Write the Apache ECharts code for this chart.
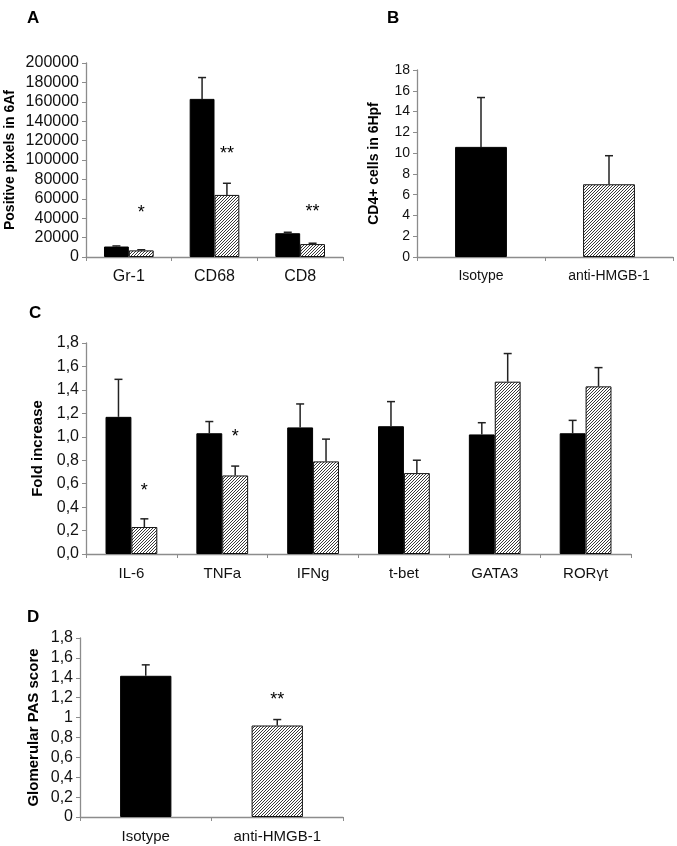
<!DOCTYPE html>
<html>
<head>
<meta charset="utf-8">
<script src="https://cdn.jsdelivr.net/npm/echarts@6/dist/echarts.min.js"></script>
<style>
html,body{margin:0;padding:0;background:#fff;}
#main{width:677px;height:846px;}
</style>
</head>
<body>
<div id="main"></div>
<script>
// panel A
var catsA = ['Gr-1', 'CD68', 'CD8'];
var isoA = [10800, 163000, 24500];
var isoErrA = [600, 22000, 1000];
var antiA = [6800, 64000, 13300];
var antiErrA = [700, 12000, 900];
var starsA = ['*', '**', '**'];
var starYA = [45000, 106000, 46000];

// panel B
var catsB = ['Isotype', 'anti-HMGB-1'];
var valsB = [10.6, 7.0];
var errB = [4.75, 2.75];

// panel C
var catsC = ['IL-6', 'TNFa', 'IFNg', 't-bet', 'GATA3', 'RORγt'];
var isoC = [1.17, 1.03, 1.08, 1.09, 1.02, 1.03];
var isoErrC = [0.32, 0.10, 0.20, 0.21, 0.10, 0.11];
var antiC = [0.23, 0.67, 0.79, 0.69, 1.47, 1.43];
var antiErrC = [0.07, 0.08, 0.19, 0.11, 0.24, 0.16];
var starsC = ['*', '*', '', '', '', ''];
var starYC = [0.54, 1.0, 0, 0, 0, 0];

// panel D
var catsD = ['Isotype', 'anti-HMGB-1'];
var valsD = [1.42, 0.92];
var errD = [0.11, 0.06];
var starsD = ['', '**'];
var starYD = [0, 1.18];

var FONT = '"Liberation Sans", Arial, sans-serif';
var AXIS_GRAY = '#8c8c8c';

// hatch pattern, 3px diagonal "/"
var hatch = document.createElement('canvas');
hatch.width = 3; hatch.height = 3;
var hc = hatch.getContext('2d');
hc.fillStyle = '#fff';
hc.fillRect(0, 0, 3, 3);
hc.fillStyle = '#3a3a3a';
for (var k = 0; k < 3; k++) hc.fillRect(k, 2 - k, 1, 1);
var hatchFill = {image: hatch, repeat: 'repeat'};

function blackStyle() { return {color: '#000', borderColor: '#000', borderWidth: 1}; }
function hatchStyle() { return {color: hatchFill, borderColor: '#111', borderWidth: 1}; }

function commaFmt(v) {
  return String(+v.toFixed(1)).replace('.', ',');
}

function errData(vals, errs) {
  return vals.map(function (v, i) { return [i, v, errs[i]]; });
}

function errSeries(idx, data, side, frac) {
  return {
    type: 'custom', xAxisIndex: idx, yAxisIndex: idx, z: 5,
    silent: true,
    encode: {x: 0, y: 1},
    data: data,
    renderItem: function (params, api) {
      var bw = api.size([1, 0])[0];
      var off = side * bw * frac / 2;
      var base = api.coord([api.value(0), api.value(1)]);
      var top = api.coord([api.value(0), api.value(1) + api.value(2)]);
      var x = base[0] + off;
      return {
        type: 'group',
        children: [
          {type: 'line', shape: {x1: x, y1: base[1], x2: x, y2: top[1]},
            style: {stroke: '#222', lineWidth: 1.5}},
          {type: 'line', shape: {x1: x - 4, y1: top[1], x2: x + 4, y2: top[1]},
            style: {stroke: '#222', lineWidth: 1.5}}
        ]
      };
    }
  };
}

function starSeries(idx, stars, ys, side, frac) {
  return {
    type: 'custom', xAxisIndex: idx, yAxisIndex: idx, z: 6,
    silent: true,
    encode: {x: 0, y: 1},
    data: ys.map(function (y, i) { return [i, y]; }),
    renderItem: function (params, api) {
      var s = stars[params.dataIndex];
      if (!s) return null;
      var bw = api.size([1, 0])[0];
      var p = api.coord([api.value(0), api.value(1)]);
      return {
        type: 'text', x: p[0] + side * bw * frac / 2, y: p[1],
        style: {text: s, fill: '#000', font: '18px ' + FONT,
          align: 'center', verticalAlign: 'middle'}
      };
    }
  };
}

function xAx(idx, cats, size) {
  return {
    type: 'category', gridIndex: idx, data: cats,
    axisLine: {lineStyle: {color: AXIS_GRAY, width: 1.3}},
    axisTick: {show: true, interval: 0, length: 4, lineStyle: {color: AXIS_GRAY}},
    axisLabel: {color: '#111', fontSize: size, fontFamily: FONT, margin: 12, interval: 0}
  };
}

function yAx(idx, max, interval, name, nameGap, nameSize, labSize, fmt) {
  return {
    type: 'value', gridIndex: idx, min: 0, max: max, interval: interval,
    name: name, nameLocation: 'middle', nameGap: nameGap,
    nameTextStyle: {fontWeight: 'bold', fontSize: nameSize, fontFamily: FONT, color: '#000'},
    splitLine: {show: false},
    axisLine: {show: true, lineStyle: {color: AXIS_GRAY, width: 1.3}},
    axisTick: {show: true, length: 4, lineStyle: {color: AXIS_GRAY}},
    axisLabel: {color: '#111', fontSize: labSize, fontFamily: FONT, margin: 7, formatter: fmt}
  };
}

function letter(t, x, y) {
  return {text: t, left: x, top: y,
    textStyle: {fontSize: 17, fontWeight: 'bold', fontFamily: FONT, color: '#000'}};
}

var FA = 0.29, FB = 0.405, FC = 0.285, FD = 0.39;

var option = {
  backgroundColor: '#fff',
  animation: false,
  title: [letter('A', 22, 5), letter('B', 382, 5), letter('C', 24, 300), letter('D', 22, 604)],
  grid: [
    {left: 86, top: 63, width: 257, height: 194},
    {left: 417, top: 70, width: 256, height: 187},
    {left: 86, top: 343, width: 545, height: 211},
    {left: 80, top: 638, width: 263, height: 179}
  ],
  xAxis: [
    xAx(0, catsA, 16),
    xAx(1, catsB, 14),
    xAx(2, catsC, 15),
    xAx(3, catsD, 15)
  ],
  yAxis: [
    yAx(0, 200000, 20000, 'Positive pixels in 6Af', 69, 14, 16, function (v) { return String(v); }),
    yAx(1, 18, 2, 'CD4+ cells in 6Hpf', 36, 14, 14, null),
    yAx(2, 1.8, 0.2, 'Fold increase', 41, 15, 16, function (v) { return v.toFixed(1).replace('.', ','); }),
    yAx(3, 1.8, 0.2, 'Glomerular PAS score', 39, 15, 16, commaFmt)
  ],
  series: [
    {type: 'bar', xAxisIndex: 0, yAxisIndex: 0, data: isoA, barWidth: (FA * 100) + '%', barGap: '0%', itemStyle: blackStyle()},
    {type: 'bar', xAxisIndex: 0, yAxisIndex: 0, data: antiA, barWidth: (FA * 100) + '%', barGap: '0%', itemStyle: hatchStyle()},
    errSeries(0, errData(isoA, isoErrA), -1, FA),
    errSeries(0, errData(antiA, antiErrA), 1, FA),
    starSeries(0, starsA, starYA, 1, FA),

    {type: 'bar', xAxisIndex: 1, yAxisIndex: 1, barWidth: (FB * 100) + '%',
      data: valsB.map(function (v, i) { return {value: v, itemStyle: i === 0 ? blackStyle() : hatchStyle()}; })},
    errSeries(1, errData(valsB, errB), 0, FB),

    {type: 'bar', xAxisIndex: 2, yAxisIndex: 2, data: isoC, barWidth: (FC * 100) + '%', barGap: '0%', itemStyle: blackStyle()},
    {type: 'bar', xAxisIndex: 2, yAxisIndex: 2, data: antiC, barWidth: (FC * 100) + '%', barGap: '0%', itemStyle: hatchStyle()},
    errSeries(2, errData(isoC, isoErrC), -1, FC),
    errSeries(2, errData(antiC, antiErrC), 1, FC),
    starSeries(2, starsC, starYC, 1, FC),

    {type: 'bar', xAxisIndex: 3, yAxisIndex: 3, barWidth: (FD * 100) + '%',
      data: valsD.map(function (v, i) { return {value: v, itemStyle: i === 0 ? blackStyle() : hatchStyle()}; })},
    errSeries(3, errData(valsD, errD), 0, FD),
    starSeries(3, starsD, starYD, 0, FD)
  ]
};

var myChart = echarts.init(document.getElementById('main'));
myChart.setOption(option);
</script>
</body>
</html>
